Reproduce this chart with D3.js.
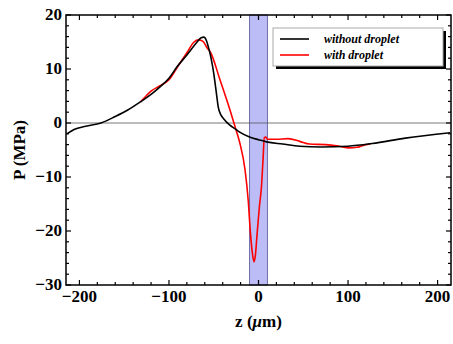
<!DOCTYPE html>
<html>
<head>
<meta charset="utf-8">
<script src="https://cdn.jsdelivr.net/npm/d3@7"></script>
<style>
  body { margin: 0; background: #fff; }
  .tick-label { font-family: 'Liberation Serif', serif; font-weight: bold; font-size: 17px; }
  .axis-title { font-family: 'Liberation Serif', serif; font-weight: bold; font-size: 17px; }
  .legend-text { font-family: 'Liberation Serif', serif; font-weight: bold; font-style: italic; font-size: 12px; }
</style>
</head>
<body>
<svg class="chart" width="453" height="344"></svg>
<script>
// without droplet
const withoutZ = [-214, -206, -193, -176, -160, -146, -132, -120, -110, -100, -91, -80, -69, -64, -61, -58, -56, -53, -50, -47, -45, -42, -39, -32, -26, -21, -10, 0, 9, 27, 46, 70, 100, 127, 164, 214];
const withoutP = [-2.0, -1.2, -0.6, 0, 1.2, 2.4, 3.9, 5.3, 6.7, 8.3, 10.4, 12.6, 14.9, 15.8, 15.9, 15.2, 14.1, 12.0, 9.2, 5.5, 3.0, 1.5, 0.8, -0.4, -1.1, -1.7, -2.6, -3.1, -3.5, -3.9, -4.3, -4.45, -4.3, -3.8, -2.8, -1.8];

// with droplet
const withZ = [-132, -125, -120, -110, -100, -90, -80, -72, -67, -62, -57, -54, -43, -32, -26, -21, -15, -11.5, -9, -6.5, -5, -3.5, -1.5, 1, 3.3, 5, 6.5, 8, 10, 20, 33, 46, 57, 75, 90, 101, 110, 116, 125];
const withP = [3.9, 5.1, 5.9, 6.9, 8.0, 10.5, 13.0, 15.0, 15.4, 15.1, 13.8, 13.2, 8.0, 2.5, -0.8, -3.6, -8.7, -14.3, -20.4, -24.5, -25.7, -24.5, -20.4, -15.5, -11.8, -7.0, -2.7, -2.6, -3.0, -3.0, -2.9, -3.4, -3.9, -4.0, -4.3, -4.6, -4.5, -4.2, -3.9];

const droplet = [-10, 10];
const xTicks = [-200, -100, 0, 100, 200];
const yTicks = [-30, -20, -10, 0, 10, 20];

const margin = { top: 15, left: 66, right: 2, bottom: 59 };
const width = 453 - margin.left - margin.right;
const height = 344 - margin.top - margin.bottom;

const x = d3.scaleLinear().domain([-215, 215]).range([0, width]);
const y = d3.scaleLinear().domain([-30, 20]).range([height, 0]);

const svg = d3.select('.chart');
const chart = svg.append('g').attr('transform', `translate(${margin.left}, ${margin.top})`);

const fmt = (v) => (v < 0 ? '\u2212' + Math.abs(v) : String(v));

// droplet band
chart.append('rect')
  .attr('x', x(droplet[0]))
  .attr('y', 0)
  .attr('width', x(droplet[1]) - x(droplet[0]))
  .attr('height', height)
  .attr('fill', '#bcbcf7')
  .attr('stroke', '#6f6fa8')
  .attr('stroke-width', 1);

// zero line
chart.append('line')
  .attr('x1', 0).attr('x2', width)
  .attr('y1', y(0)).attr('y2', y(0))
  .attr('stroke', '#555')
  .attr('stroke-width', 0.8);

const line = d3.line()
  .x((d) => x(d[0]))
  .y((d) => y(d[1]))
  .curve(d3.curveMonotoneX);

chart.append('path')
  .datum(withZ.map((z, i) => [z, withP[i]]))
  .attr('d', line)
  .attr('fill', 'none')
  .attr('stroke', '#ff0000')
  .attr('stroke-width', 1.6);

chart.append('path')
  .datum(withoutZ.map((z, i) => [z, withoutP[i]]))
  .attr('d', line)
  .attr('fill', 'none')
  .attr('stroke', '#000')
  .attr('stroke-width', 1.6);

// frame ticks, major + minor, inward on every side
const xMinor = d3.range(-200, 201, 20).filter((v) => !xTicks.includes(v));
const yMinor = d3.range(-30, 21, 2).filter((v) => !yTicks.includes(v));
const ticks = chart.append('g').attr('stroke', '#000').attr('stroke-width', 1.2);

const drawXTicks = (vals, len) => {
  vals.forEach((v) => {
    ticks.append('line').attr('x1', x(v)).attr('x2', x(v)).attr('y1', height).attr('y2', height - len);
    ticks.append('line').attr('x1', x(v)).attr('x2', x(v)).attr('y1', 0).attr('y2', len);
  });
};
const drawYTicks = (vals, len) => {
  vals.forEach((v) => {
    ticks.append('line').attr('x1', 0).attr('x2', len).attr('y1', y(v)).attr('y2', y(v));
    ticks.append('line').attr('x1', width).attr('x2', width - len).attr('y1', y(v)).attr('y2', y(v));
  });
};
drawXTicks(xTicks, 5);
drawXTicks(xMinor, 3);
drawYTicks(yTicks, 5);
drawYTicks(yMinor, 3);

chart.append('rect')
  .attr('width', width).attr('height', height)
  .attr('fill', 'none')
  .attr('stroke', '#000')
  .attr('stroke-width', 1.5);

// tick labels
chart.selectAll('.xl')
  .data(xTicks)
  .enter()
  .append('text')
  .classed('tick-label', true)
  .attr('x', (d) => x(d))
  .attr('y', height + 17)
  .attr('text-anchor', 'middle')
  .text(fmt);

chart.selectAll('.yl')
  .data(yTicks)
  .enter()
  .append('text')
  .classed('tick-label', true)
  .attr('x', -4)
  .attr('y', (d) => y(d) + 5)
  .attr('text-anchor', 'end')
  .text(fmt);

// axis titles
chart.append('text')
  .classed('axis-title', true)
  .attr('transform', `translate(${-41}, ${height / 2}) rotate(-90)`)
  .attr('text-anchor', 'middle')
  .text('P (MPa)');

const xTitle = chart.append('text')
  .classed('axis-title', true)
  .attr('x', width / 2)
  .attr('y', height + 42)
  .attr('text-anchor', 'middle');
xTitle.append('tspan').text('z (');
xTitle.append('tspan').attr('font-style', 'italic').text('\u03bc');
xTitle.append('tspan').text('m)');

// legend
const legend = svg.append('g').attr('transform', 'translate(273, 28)');
legend.append('rect').attr('x', 3).attr('y', 3).attr('width', 170).attr('height', 38).attr('fill', '#000');
legend.append('rect').attr('width', 170).attr('height', 38).attr('fill', '#fff').attr('stroke', '#aaa').attr('stroke-width', 1);

const legendItems = [
  { label: 'without droplet', color: '#000' },
  { label: 'with droplet', color: '#ff0000' },
];
legendItems.forEach(({ label, color }, i) => {
  const ly = 11 + i * 16;
  legend.append('line')
    .attr('x1', 7).attr('x2', 36)
    .attr('y1', ly).attr('y2', ly)
    .attr('stroke', color)
    .attr('stroke-width', 1.6);
  legend.append('text')
    .classed('legend-text', true)
    .attr('x', 51)
    .attr('y', ly + 4)
    .text(label);
});
</script>
</body>
</html>
